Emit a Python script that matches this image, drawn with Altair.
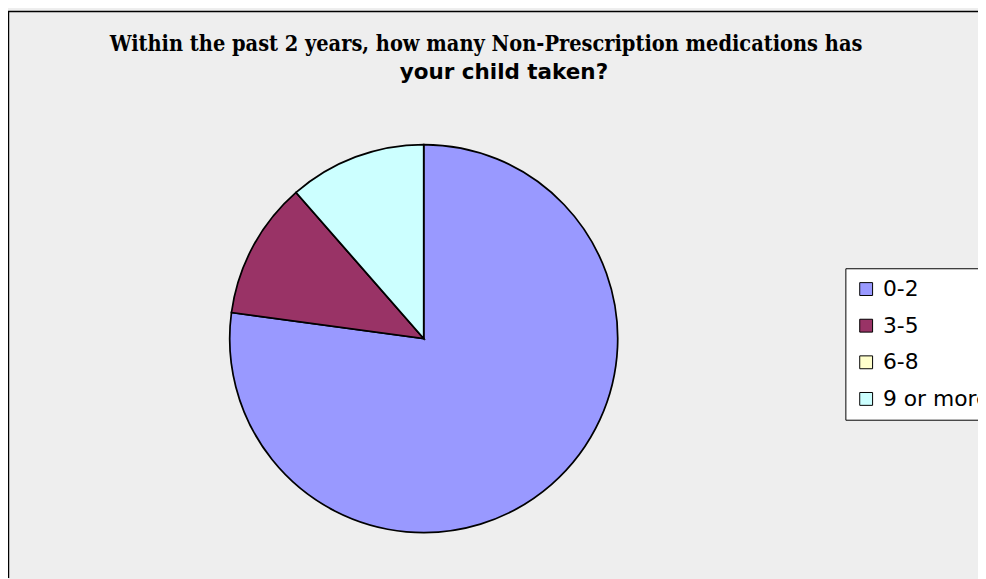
import altair as alt
import pandas as pd

# ---- data ----
categories = ["0-2", "3-5", "6-8", "9 or more"]
counts = [27, 4, 0, 4]
colors = ["#9999FF", "#993366", "#FFFFCC", "#CCFFFF"]
title_line1 = ["Within the past 2 years, how many Non-Prescription medications has"]
title_line2 = ["your child taken?"]

df = pd.DataFrame({"category": categories, "count": counts, "order": list(range(len(categories)))})

W, H = 980, 573

pie = alt.Chart(df).mark_arc(radius=196, stroke="black", strokeWidth=1.75).encode(
    theta=alt.Theta("count:Q", stack=True),
    order=alt.Order("order:Q"),
    color=alt.Color(
        "category:N",
        scale=alt.Scale(domain=categories, range=colors),
        legend=alt.Legend(
            title=None,
            orient="none",
            legendX=846,
            legendY=260,
            symbolType="square",
            symbolSize=169,
            symbolStrokeColor="black",
            symbolStrokeWidth=1,
            symbolOpacity=1,
            labelFont="DejaVu Sans",
            labelFontSize=22,
            labelColor="black",
            labelOffset=6,
            rowPadding=15,
            padding=10,
            strokeColor="black",
            fillColor="white",
            cornerRadius=0,
        ),
    ),
    x=alt.value(420),
    y=alt.value(331),
)

one = alt.Data(values=[{"k": 1}])
frame_left = alt.Chart(one).mark_rule(color="black", strokeWidth=1.5).encode(
    x=alt.value(0.5), y=alt.value(0), y2=alt.value(H)
)
frame_top = alt.Chart(one).mark_rule(color="black", strokeWidth=1.5).encode(
    y=alt.value(0.5), x=alt.value(0), x2=alt.value(W)
)

t1 = alt.Chart(pd.DataFrame({"t": title_line1})).mark_text(
    font="DejaVu Serif Condensed", fontSize=21.8, fontWeight="bold", color="black",
    align="center", baseline="alphabetic"
).encode(text="t:N", x=alt.value(483), y=alt.value(40))

t2 = alt.Chart(pd.DataFrame({"t": title_line2})).mark_text(
    font="DejaVu Sans", fontSize=21.7, fontWeight="bold", color="black",
    align="center", baseline="alphabetic"
).encode(text="t:N", x=alt.value(501), y=alt.value(69))

chart = alt.layer(frame_left, frame_top, pie, t1, t2).properties(
    width=W, height=H, autosize=alt.AutoSizeParams(type="none"), padding=0,
    background="#EEEEEE",
).configure_view(stroke=None)

chart.save("out.html", embed_options={"renderer": "svg", "actions": False})
